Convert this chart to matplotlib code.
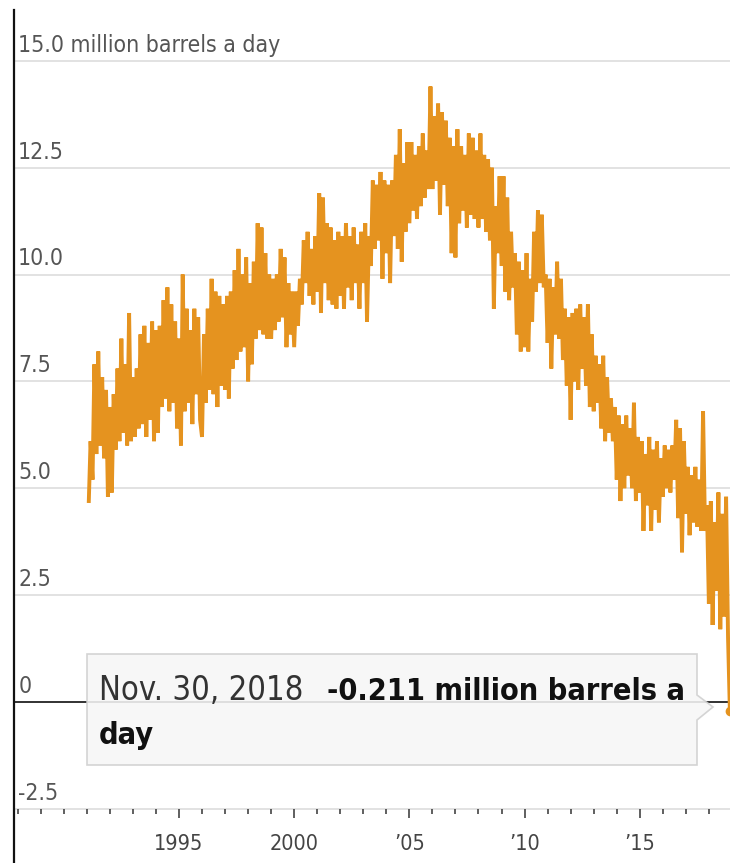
import matplotlib
matplotlib.use('Agg')
import matplotlib.pyplot as plt
import matplotlib.dates as mdates
from matplotlib.patches import Polygon
from matplotlib.ticker import FixedLocator
import pandas as pd

plt.rcParams['font.family'] = ['DejaVu Sans']
plt.rcParams['font.stretch'] = 'condensed'

# net petroleum imports, million barrels a day, one reading per month (Feb 1991 - Nov 2018)
vals_1991 = [4.7, 6.1, 5.2, 7.9, 5.8, 8.2, 6.0, 7.6, 5.7, 7.3, 4.8]
vals_1992 = [6.9, 4.9, 7.2, 5.9, 7.8, 6.1, 8.5, 6.3, 7.9, 6.0, 9.1, 6.1]
vals_1993 = [7.6, 6.2, 7.8, 6.4, 8.6, 6.5, 8.8, 6.2, 8.4, 6.6, 8.9, 6.1]
vals_1994 = [8.7, 6.3, 8.8, 6.9, 9.4, 7.1, 9.7, 6.8, 9.3, 7.0, 8.9, 6.4]
vals_1995 = [8.5, 6.0, 10.0, 6.8, 9.2, 7.0, 8.7, 6.5, 9.2, 7.2, 9.0, 6.6]
vals_1996 = [6.2, 8.6, 7.0, 9.2, 7.3, 9.9, 7.2, 9.6, 6.9, 9.5, 7.4, 9.3]
vals_1997 = [7.3, 9.5, 7.1, 9.6, 7.8, 10.1, 8.0, 10.6, 8.2, 10.0, 8.3, 10.4]
vals_1998 = [7.5, 9.8, 7.9, 10.3, 8.5, 11.2, 8.7, 11.1, 8.6, 10.5, 8.5, 10.0]
vals_1999 = [8.5, 9.9, 8.7, 10.0, 8.9, 10.6, 9.0, 10.4, 8.3, 9.8, 8.6, 9.6]
vals_2000 = [8.3, 9.6, 8.8, 9.9, 9.3, 10.8, 9.8, 11.0, 9.5, 10.6, 9.3, 10.9]
vals_2001 = [9.6, 11.9, 9.1, 11.8, 9.8, 11.2, 9.4, 11.1, 9.3, 10.8, 9.2, 11.0]
vals_2002 = [9.5, 10.9, 9.2, 11.2, 9.7, 10.9, 9.4, 11.1, 9.8, 10.7, 9.2, 11.0]
vals_2003 = [9.8, 11.2, 8.9, 10.9, 10.2, 12.2, 10.6, 12.1, 10.8, 12.4, 9.9, 12.2]
vals_2004 = [10.5, 12.1, 9.8, 12.2, 10.9, 12.8, 10.6, 13.4, 10.3, 12.6, 11.0, 13.1]
vals_2005 = [11.2, 13.1, 11.5, 12.8, 11.3, 13.0, 11.6, 13.3, 11.8, 12.9, 12.0, 14.4]
vals_2006 = [12.0, 13.7, 12.2, 14.0, 11.4, 13.8, 12.1, 13.6, 11.6, 13.2, 10.5, 13.0]
vals_2007 = [10.4, 13.4, 11.2, 13.0, 11.5, 12.8, 11.1, 13.3, 11.4, 13.2, 11.3, 12.9]
vals_2008 = [11.1, 13.3, 11.3, 12.8, 11.0, 12.7, 10.8, 12.5, 9.2, 11.6, 10.5, 12.3]
vals_2009 = [10.2, 12.3, 9.6, 11.8, 9.4, 11.0, 9.7, 10.5, 8.6, 10.3, 8.2, 10.1]
vals_2010 = [8.3, 10.5, 8.2, 9.9, 8.9, 11.0, 9.6, 11.5, 9.8, 11.4, 9.7, 10.0]
vals_2011 = [8.4, 9.9, 7.8, 9.7, 8.6, 10.3, 8.5, 9.9, 8.0, 9.2, 7.4, 9.0]
vals_2012 = [6.6, 9.1, 7.5, 9.2, 7.3, 9.3, 7.8, 9.0, 7.4, 9.3, 6.9, 8.6]
vals_2013 = [6.8, 8.1, 7.0, 7.9, 6.4, 8.1, 6.1, 7.6, 6.3, 7.1, 6.1, 6.9]
vals_2014 = [5.2, 6.7, 4.7, 6.5, 5.0, 6.7, 5.3, 6.4, 5.0, 7.0, 4.7, 6.2]
vals_2015 = [4.9, 6.1, 4.0, 5.8, 4.6, 6.2, 4.0, 5.9, 4.5, 6.1, 4.2, 5.7]
vals_2016 = [4.8, 6.0, 5.0, 5.9, 4.9, 6.0, 5.2, 6.6, 4.3, 6.4, 3.5, 6.1]
vals_2017 = [4.4, 5.5, 3.9, 5.3, 4.2, 5.5, 4.1, 5.2, 4.0, 6.8, 4.0, 4.6]
vals_2018 = [2.3, 4.7, 1.8, 4.2, 2.6, 4.9, 1.7, 4.4, 2.0, 4.8, 1.5]

last_date = '2018-11-30'
last_value = -0.211

yticks = [-2.5, 0, 2.5, 5.0, 7.5, 10.0, 12.5, 15.0]
ytick_labels = ['-2.5', '0', '2.5', '5.0', '7.5', '10.0', '12.5', '15.0 million barrels a day']
xtick_years = [1995, 2000, 2005, 2010, 2015]
xtick_labels = ['1995', '2000', '\u201905', '\u201910', '\u201915']

values = (vals_1991 + vals_1992 + vals_1993 + vals_1994 + vals_1995 + vals_1996 + vals_1997
          + vals_1998 + vals_1999 + vals_2000 + vals_2001 + vals_2002 + vals_2003 + vals_2004
          + vals_2005 + vals_2006 + vals_2007 + vals_2008 + vals_2009 + vals_2010 + vals_2011
          + vals_2012 + vals_2013 + vals_2014 + vals_2015 + vals_2016 + vals_2017 + vals_2018)
dates = list(pd.date_range('1991-02-01', '2018-11-01', freq='MS'))
dates.append(pd.Timestamp(last_date))
values.append(last_value)

W, H = 730, 863
fig = plt.figure(figsize=(W / 100, H / 100), dpi=100)
ax = fig.add_axes([14 / W, 0, 716 / W, 853 / H])

orange = '#e5931f'
ax.plot(dates, values, color=orange, lw=2.8, solid_joinstyle='miter', zorder=3)
ax.plot([dates[-1]], [values[-1]], 'o', color=orange, ms=6, zorder=4)

ax.set_ylim(-3.77, 16.19)
ax.set_xlim(pd.Timestamp('1987-11-03'), pd.Timestamp('2018-12-02'))

for v in yticks:
    if v == 0:
        ax.axhline(v, color='#222222', lw=1.3, zorder=2)
    else:
        ax.axhline(v, color='#e2e2e2', lw=1.4, zorder=1)
for v, lab in zip(yticks, ytick_labels):
    ax.annotate(lab, xy=(0, v), xycoords=('axes fraction', 'data'), xytext=(3, 3),
                textcoords='offset points', ha='left', va='bottom', fontsize=16.5,
                color='#555555', zorder=5)

for s in ['top', 'right', 'bottom']:
    ax.spines[s].set_visible(False)
ax.spines['left'].set_color('#111111')
ax.spines['left'].set_linewidth(1.6)
ax.spines['bottom'].set_position(('data', -2.5))

ax.set_yticks([])
ax.xaxis.set_major_locator(FixedLocator([mdates.date2num(pd.Timestamp(f'{y}-01-01')) for y in xtick_years]))
ax.xaxis.set_minor_locator(mdates.YearLocator(1))
ax.set_xticklabels(xtick_labels)
ax.tick_params(axis='x', which='major', direction='out', length=6.5, width=1.2, color='#444444',
               pad=12, labelsize=15.5, labelcolor='#444444')
ax.tick_params(axis='x', which='minor', direction='out', length=3.5, width=1.2, color='#444444')

# tooltip box with pointer on the right side
def fxy(x, y):
    return (x / W, 1 - y / H)

box = Polygon([fxy(87, 654), fxy(697, 654), fxy(697, 695), fxy(713, 707), fxy(697, 720),
               fxy(697, 765), fxy(87, 765)], closed=True, transform=fig.transFigure,
              facecolor='#f6f6f6', edgecolor='#cfcfcf', lw=1.2, alpha=0.88, zorder=10)
fig.patches.append(box)
fig.text(*fxy(99, 700), 'Nov. 30, 2018', fontsize=23.5, color='#333333', va='baseline', zorder=11)
fig.text(*fxy(327, 700), '-0.211 million barrels a', fontsize=22, fontweight='bold',
         color='#111111', va='baseline', zorder=11)
fig.text(*fxy(99, 744), 'day', fontsize=22, fontweight='bold', color='#111111',
         va='baseline', zorder=11)

fig.savefig('out.png', dpi=100)
